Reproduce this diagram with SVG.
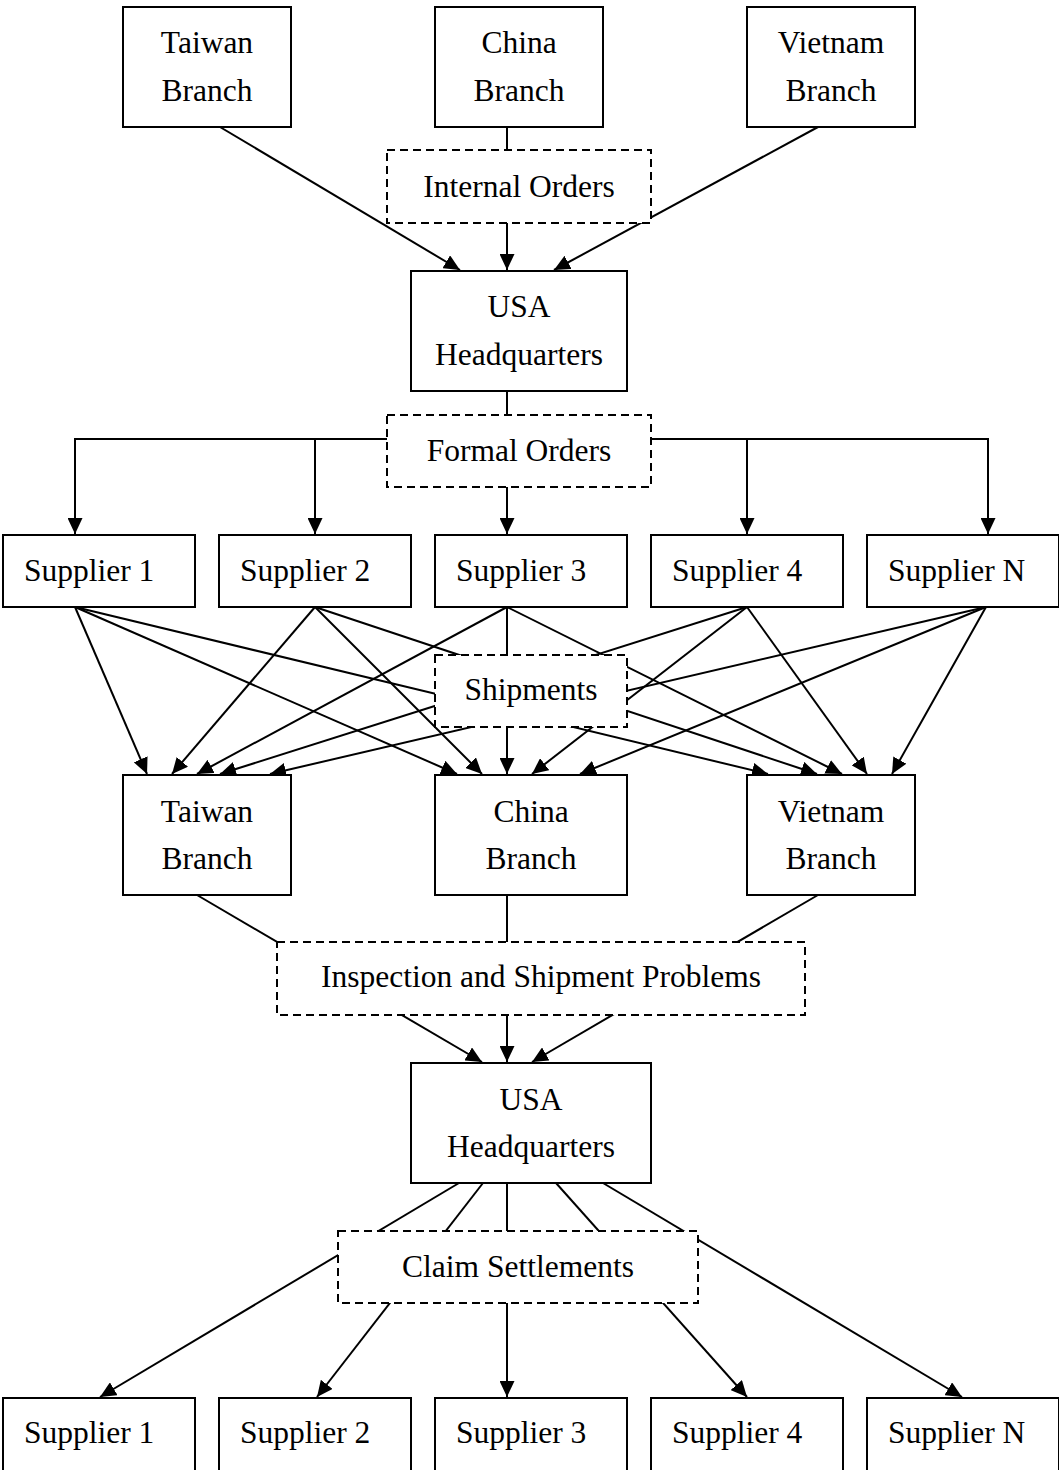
<svg xmlns="http://www.w3.org/2000/svg" width="1059" height="1470" viewBox="0 0 1059 1470">
<style>
.box{fill:#fff;stroke:#000;stroke-width:2}
.dash{fill:#fff;stroke:#000;stroke-width:2;stroke-dasharray:8 5}
.ln{fill:none;stroke:#000;stroke-width:2}
.ar{fill:none;stroke:#000;stroke-width:2;marker-end:url(#ah)}
text{font-family:"Liberation Serif","Times New Roman",serif;font-size:31.5px;fill:#000}
.c{text-anchor:middle}
</style>
<defs>
<marker id="ah" markerUnits="userSpaceOnUse" markerWidth="16" markerHeight="15" viewBox="0 0 16 15" refX="16" refY="7.5" orient="auto">
<path d="M0,0 L16,7.5 L0,15 z" fill="#000"/>
</marker>
</defs>
<rect width="1059" height="1470" fill="#fff"/>
<g id="connectors">
<!-- top branches to HQ -->
<path class="ar" d="M220,127 L460,270"/>
<path class="ln" d="M507,127 V150"/>
<path class="ar" d="M507,223 V270"/>
<path class="ar" d="M818,127 L554,270"/>
<!-- HQ to formal orders -->
<path class="ln" d="M507,391 V415"/>
<path class="ar" d="M387,439 H75 V534"/>
<path class="ar" d="M315,439 V534"/>
<path class="ar" d="M507,487 V534"/>
<path class="ar" d="M651,439 H988 V534"/>
<path class="ar" d="M747,439 V534"/>
<!-- suppliers to branches -->
<path class="ar" d="M75,607 L147,774"/>
<path class="ar" d="M75,607 L457,774"/>
<path class="ar" d="M75,607 L768,774"/>
<path class="ar" d="M315,607 L172,774"/>
<path class="ar" d="M315,607 L482,774"/>
<path class="ar" d="M315,607 L817,774"/>
<path class="ar" d="M507,607 L197,774"/>
<path class="ar" d="M507,607 L507,774"/>
<path class="ar" d="M507,607 L842,774"/>
<path class="ar" d="M747,607 L220,774"/>
<path class="ar" d="M747,607 L532,774"/>
<path class="ar" d="M747,607 L867,774"/>
<path class="ar" d="M986,607 L270,774"/>
<path class="ar" d="M986,607 L580,774"/>
<path class="ar" d="M986,607 L892,774"/>
<!-- branches to HQ2 -->
<path class="ar" d="M197,895 L482,1062"/>
<path class="ar" d="M507,895 V1062"/>
<path class="ar" d="M818,895 L532,1062"/>
<!-- HQ2 to suppliers -->
<path class="ar" d="M459,1183 L100,1397"/>
<path class="ar" d="M483,1183 L317,1397"/>
<path class="ar" d="M507,1183 V1397"/>
<path class="ar" d="M556,1183 L747,1397"/>
<path class="ar" d="M603,1183 L962,1397"/>
</g>
<g id="taiwan-top"><rect class="box" x="123" y="7" width="168" height="120"/><text class="c" x="207" y="53">Taiwan</text><text class="c" x="207" y="101">Branch</text></g>
<g id="china-top"><rect class="box" x="435" y="7" width="168" height="120"/><text class="c" x="519" y="53">China</text><text class="c" x="519" y="101">Branch</text></g>
<g id="vietnam-top"><rect class="box" x="747" y="7" width="168" height="120"/><text class="c" x="831" y="53">Vietnam</text><text class="c" x="831" y="101">Branch</text></g>
<g id="internal-orders"><rect class="dash" x="387" y="150" width="264" height="73"/><text class="c" x="519" y="197">Internal Orders</text></g>
<g id="usa-hq-1"><rect class="box" x="411" y="271" width="216" height="120"/><text class="c" x="519" y="317">USA</text><text class="c" x="519" y="365">Headquarters</text></g>
<g id="formal-orders"><rect class="dash" x="387" y="415" width="264" height="72"/><text class="c" x="519" y="461">Formal Orders</text></g>
<g id="supplier-1-top"><rect class="box" x="3" y="535" width="192" height="72"/><text x="24" y="581">Supplier 1</text></g>
<g id="supplier-2-top"><rect class="box" x="219" y="535" width="192" height="72"/><text x="240" y="581">Supplier 2</text></g>
<g id="supplier-3-top"><rect class="box" x="435" y="535" width="192" height="72"/><text x="456" y="581">Supplier 3</text></g>
<g id="supplier-4-top"><rect class="box" x="651" y="535" width="192" height="72"/><text x="672" y="581">Supplier 4</text></g>
<g id="supplier-n-top"><rect class="box" x="867" y="535" width="192" height="72"/><text x="888" y="581">Supplier N</text></g>
<g id="shipments"><rect class="dash" x="435" y="655" width="192" height="72"/><text class="c" x="531" y="700">Shipments</text></g>
<g id="taiwan-mid"><rect class="box" x="123" y="775" width="168" height="120"/><text class="c" x="207" y="822">Taiwan</text><text class="c" x="207" y="869">Branch</text></g>
<g id="china-mid"><rect class="box" x="435" y="775" width="192" height="120"/><text class="c" x="531" y="822">China</text><text class="c" x="531" y="869">Branch</text></g>
<g id="vietnam-mid"><rect class="box" x="747" y="775" width="168" height="120"/><text class="c" x="831" y="822">Vietnam</text><text class="c" x="831" y="869">Branch</text></g>
<g id="inspection"><rect class="dash" x="277" y="942" width="528" height="73"/><text class="c" x="541" y="987">Inspection and Shipment Problems</text></g>
<g id="usa-hq-2"><rect class="box" x="411" y="1063" width="240" height="120"/><text class="c" x="531" y="1110">USA</text><text class="c" x="531" y="1157">Headquarters</text></g>
<g id="claim-settlements"><rect class="dash" x="338" y="1231" width="360" height="72"/><text class="c" x="518" y="1277">Claim Settlements</text></g>
<g id="supplier-1-bot"><rect class="box" x="3" y="1398" width="192" height="80"/><text x="24" y="1443">Supplier 1</text></g>
<g id="supplier-2-bot"><rect class="box" x="219" y="1398" width="192" height="80"/><text x="240" y="1443">Supplier 2</text></g>
<g id="supplier-3-bot"><rect class="box" x="435" y="1398" width="192" height="80"/><text x="456" y="1443">Supplier 3</text></g>
<g id="supplier-4-bot"><rect class="box" x="651" y="1398" width="192" height="80"/><text x="672" y="1443">Supplier 4</text></g>
<g id="supplier-n-bot"><rect class="box" x="867" y="1398" width="192" height="80"/><text x="888" y="1443">Supplier N</text></g>
</svg>
